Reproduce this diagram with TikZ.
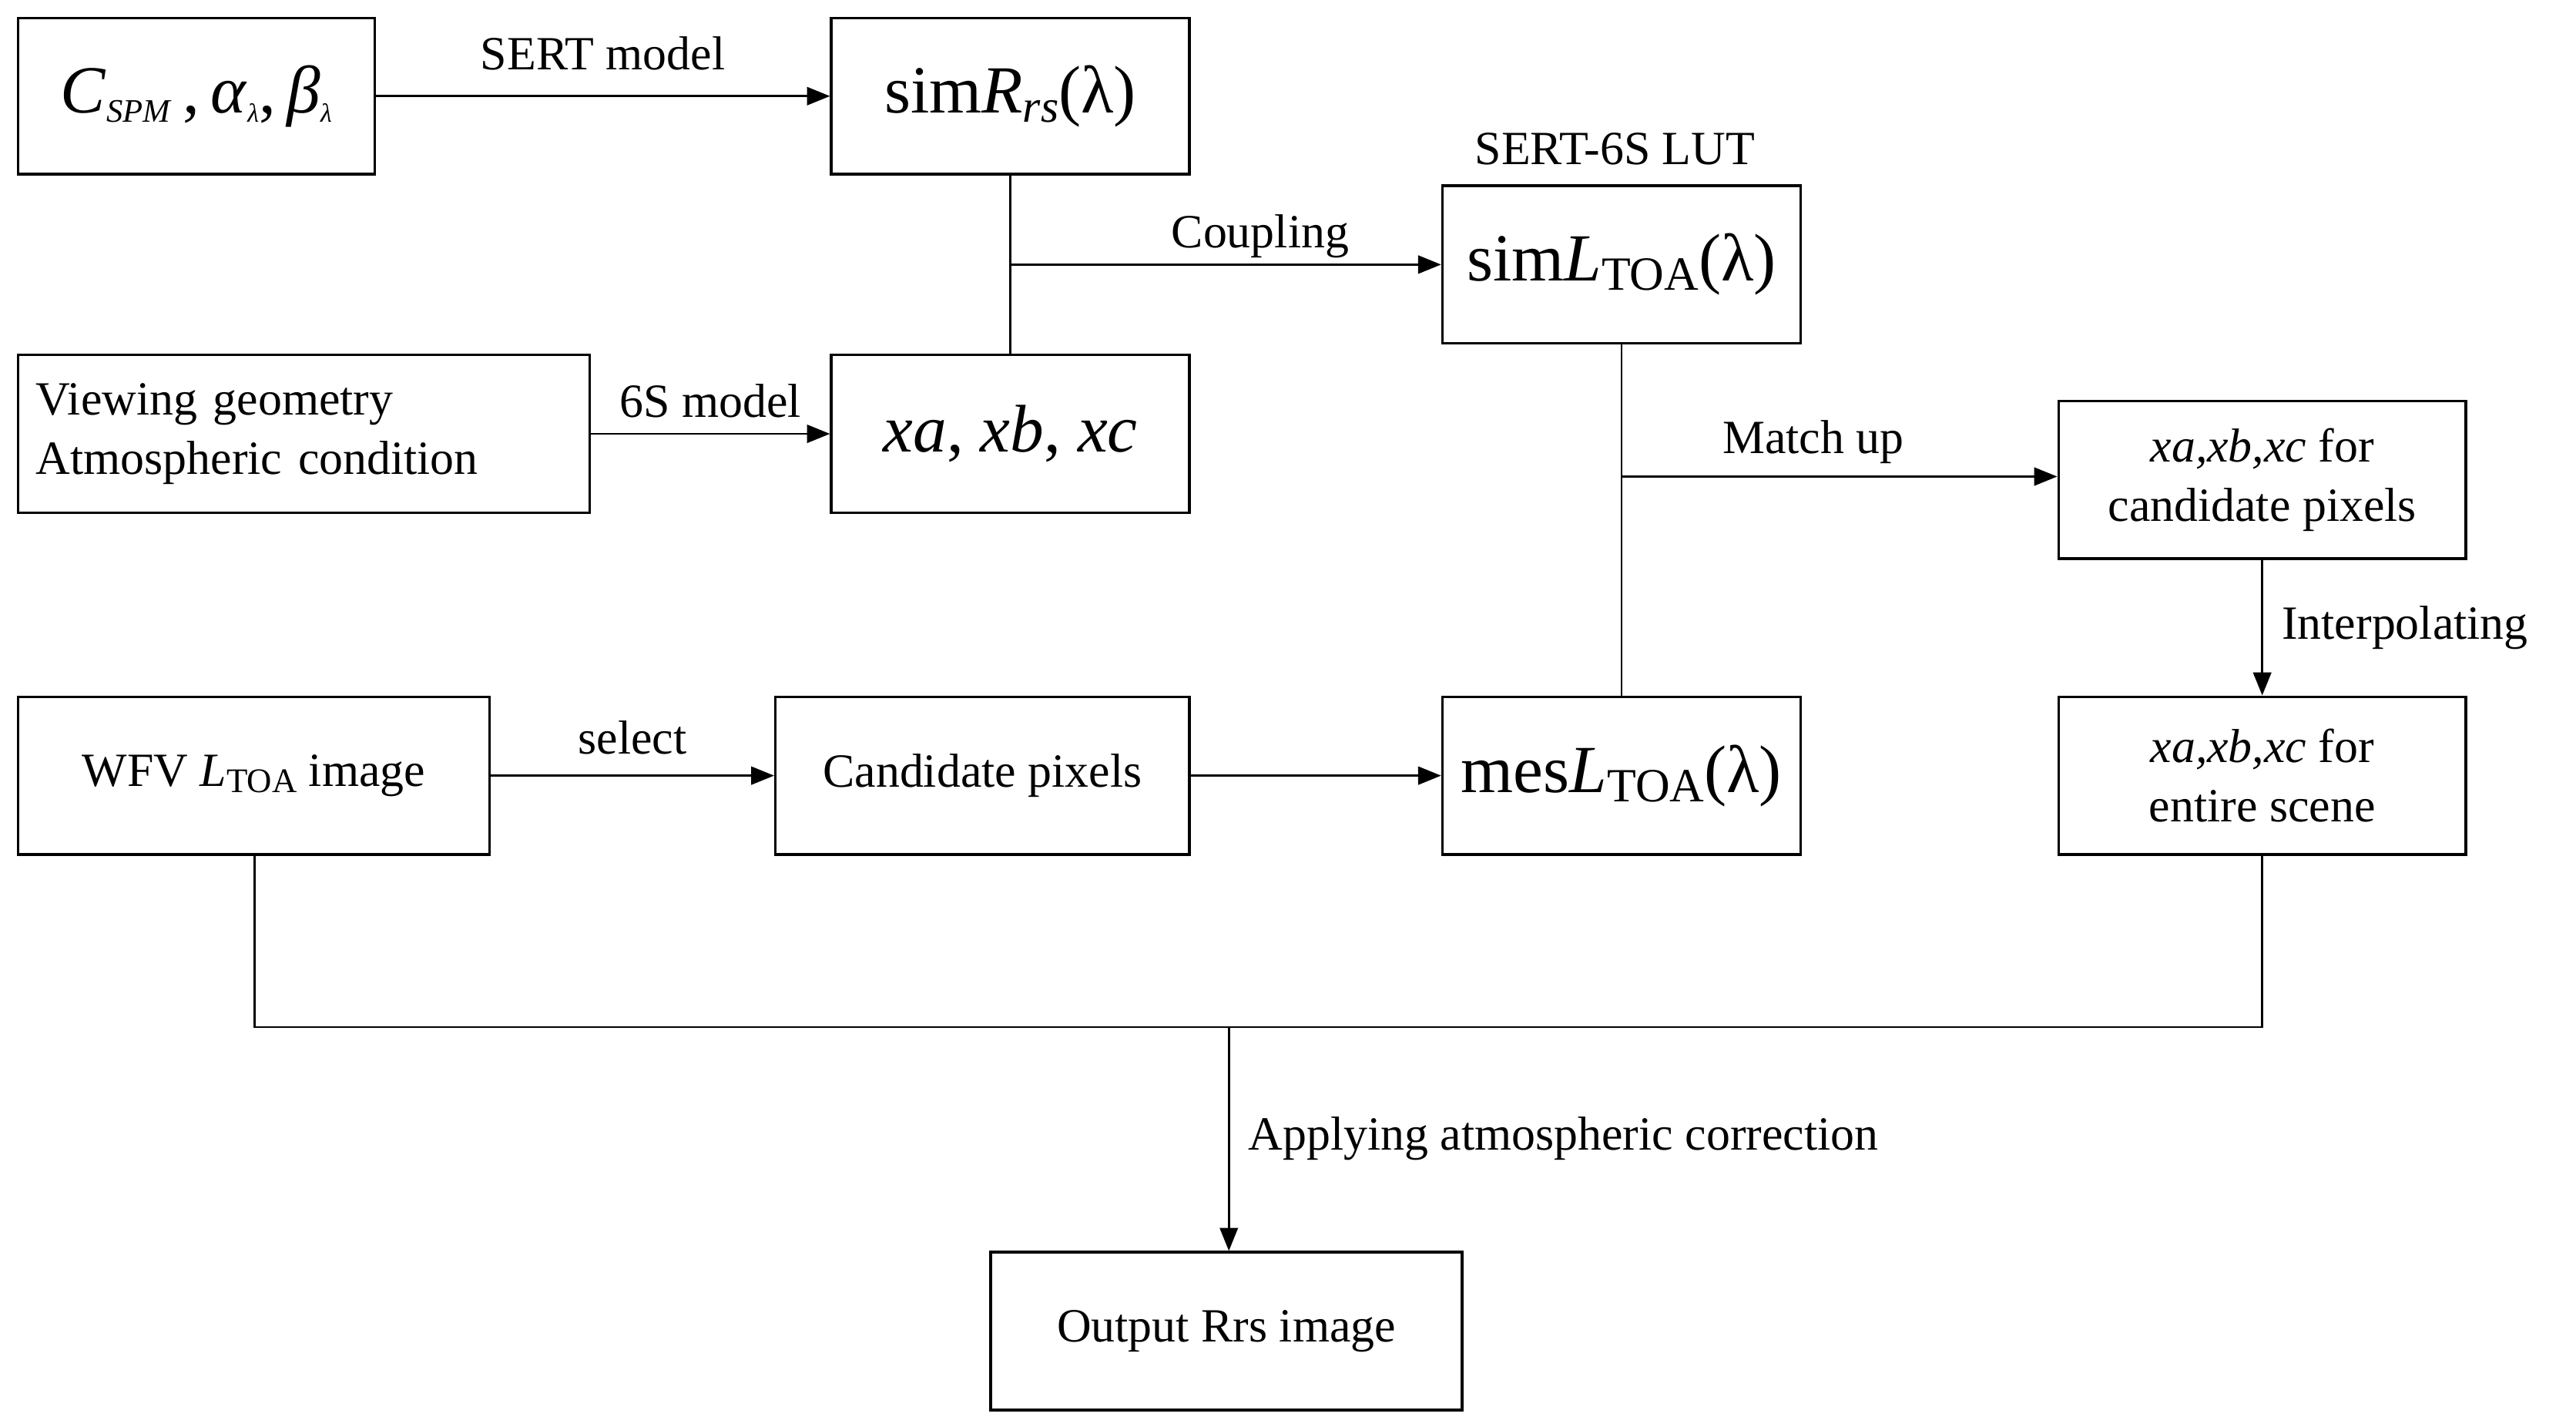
\documentclass[tikz,border=0pt]{standalone}
\usepackage{fontspec}
\setmainfont{Liberation Serif}
\usetikzlibrary{arrows.meta}
\begin{document}
\begin{tikzpicture}[x=1pt,y=-1pt,
  box/.style={draw,line width=1.6pt,inner sep=0pt},
  ln/.style={line width=1.3pt},
  ar/.style={ln,-{Triangle[length=14pt,width=11pt]}},
  lab/.style={font=\fontsize{29}{36}\selectfont},
  big/.style={font=\fontsize{41}{46}\selectfont}]
\useasboundingbox (0,0) rectangle (1568,868);
\node[box,minimum width=217,minimum height=95,big] (c) at (119.5,58.5) {\textit{C}\raisebox{-0.3ex}{\fontsize{20}{20}\selectfont\textit{SPM}}\,,\,\textit{α}\raisebox{-0.3ex}{\fontsize{16}{16}\selectfont\textit{λ}},\,\textit{β}\raisebox{-0.3ex}{\fontsize{16}{16}\selectfont\textit{λ}}};
\node[box,minimum width=218,minimum height=95,big] (sr) at (615,58.5) {sim\textit{R}\raisebox{-0.3ex}{\fontsize{28}{28}\selectfont\textit{rs}}(λ)};
\node[box,minimum width=218,minimum height=96,big] (sl) at (987,161) {sim\textit{L}\raisebox{-0.3ex}{\fontsize{29}{29}\selectfont TOA}(λ)};
\node[lab,anchor=south] (lut) at (983,104) {SERT-6S LUT};
\node[box,minimum width=348,minimum height=96,lab,align=left,text width=326] (vg) at (185,264) {Viewing geometry\\Atmospheric condition};
\node[box,minimum width=218,minimum height=96,big] (x) at (615,264) {\textit{xa}, \textit{xb}, \textit{xc}};
\node[box,minimum width=248,minimum height=96,lab,align=center] (xc) at (1377,292) {\textit{xa,xb,xc} for\\candidate pixels};
\node[box,minimum width=287,minimum height=96,lab] (w) at (154.5,472) {WFV \textit{L}\raisebox{-0.3ex}{\fontsize{21}{21}\selectfont TOA} image};
\node[box,minimum width=252,minimum height=96,lab] (cp) at (598,472) {Candidate pixels};
\node[box,minimum width=218,minimum height=96,big] (ml) at (987,472) {mes\textit{L}\raisebox{-0.3ex}{\fontsize{29}{29}\selectfont TOA}(λ)};
\node[box,minimum width=248,minimum height=96,lab,align=center] (xe) at (1377,472) {\textit{xa,xb,xc} for\\entire scene};
\node[box,minimum width=287,minimum height=96,lab] (o) at (746.5,810) {Output Rrs image};
\coordinate (j1) at (615,161);
\coordinate (j2) at (987,290);
\coordinate (b1) at (155,625);
\coordinate (b2) at (1377,625);
\coordinate (b3) at (748,625);
\draw[ar] (c) -- node[lab,above=12pt]{SERT model} (sr);
\draw[ln] (sr) -- (x);
\draw[ar] (j1) -- node[lab,above=0pt,pos=0.58]{Coupling} (sl.west|-j1);
\draw[ar] (vg) -- node[lab,above=6pt]{6S model} (x);
\draw[ln] (sl) -- (ml);
\draw[ar] (j2) -- node[lab,above=4pt,pos=0.44]{Match up} (xc.west|-j2);
\draw[ar] (xc) -- node[lab,right=8pt]{Interpolating} (xe);
\draw[ar] (w) -- node[lab,above=9pt]{select} (cp);
\draw[ar] (cp) -- (ml);
\draw[ln] (w.south-|b1) -- (b1) -- (b2) -- (xe.south);
\draw[ar] (b3) -- node[lab,right=8pt,pos=0.5]{Applying atmospheric correction} (o.north-|b3);
\end{tikzpicture}
\end{document}
